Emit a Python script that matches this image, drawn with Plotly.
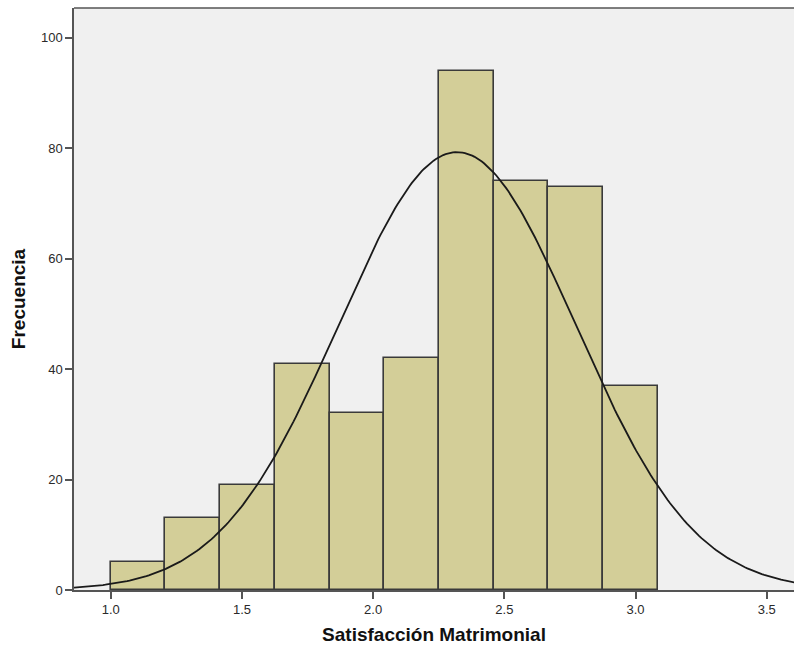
import numpy as np
import plotly.graph_objects as go

bin_start = 1.0
bin_width = 0.2085
frecuencias = [5, 13, 19, 41, 32, 42, 94, 74, 73, 37]
media = 2.32
desv = 0.451
n_total = sum(frecuencias)
x_ticks = [1.0, 1.5, 2.0, 2.5, 3.0, 3.5]
x_ticklabels = ["1.0", "1.5", "2.0", "2.5", "3.0", "3.5"]
y_ticks = [0, 20, 40, 60, 80, 100]

centros = [bin_start + bin_width * (i + 0.5) for i in range(len(frecuencias))]

xs = np.linspace(0.86, 3.61, 300)
ys = n_total * bin_width / (desv * np.sqrt(2 * np.pi)) * np.exp(-0.5 * ((xs - media) / desv) ** 2)

fig = go.Figure()
fig.add_trace(go.Bar(
    x=centros, y=frecuencias, width=bin_width,
    marker=dict(color="#D3CE98", line=dict(color="#3a3a3a", width=1.6)),
    hoverinfo="skip",
))
fig.add_trace(go.Scatter(
    x=xs, y=ys, mode="lines", line=dict(color="#1a1a1a", width=1.8), hoverinfo="skip",
))

font_family = "Liberation Sans, Arial, sans-serif"
fig.update_layout(
    width=794, height=645,
    margin=dict(l=74, r=0, t=8, b=55),
    paper_bgcolor="white", plot_bgcolor="#F0F0F0",
    showlegend=False, bargap=0,
    font=dict(family=font_family, size=13, color="#222"),
    xaxis=dict(
        range=[0.86, 3.604], tickvals=x_ticks, ticktext=x_ticklabels,
        showgrid=False, zeroline=False, showline=True, linecolor="#555", linewidth=1.5,
        ticks="outside", ticklen=7, tickwidth=1.5, tickcolor="#555",
        tickfont=dict(size=13, color="#2a2a2a"),
        title=dict(text="<b>Satisfacción Matrimonial</b>", font=dict(size=19, color="#111"), standoff=12),
    ),
    yaxis=dict(
        range=[0, 105.4], tickvals=y_ticks,
        showgrid=False, zeroline=False, showline=True, linecolor="#555", linewidth=1.5,
        ticks="outside", ticklen=7, tickwidth=1.5, tickcolor="#555",
        tickfont=dict(size=13, color="#2a2a2a"),
        title=dict(text="<b>Frecuencia</b>", font=dict(size=19, color="#111"), standoff=10),
    ),
    shapes=[dict(type="line", xref="paper", yref="paper", x0=0, x1=1, y0=1, y1=1,
                 line=dict(color="#555", width=1.5))],
)
fig.write_html("out.html", config={"displayModeBar": False},
               post_script="document.body.style.margin='0';document.body.style.overflow='hidden';")
